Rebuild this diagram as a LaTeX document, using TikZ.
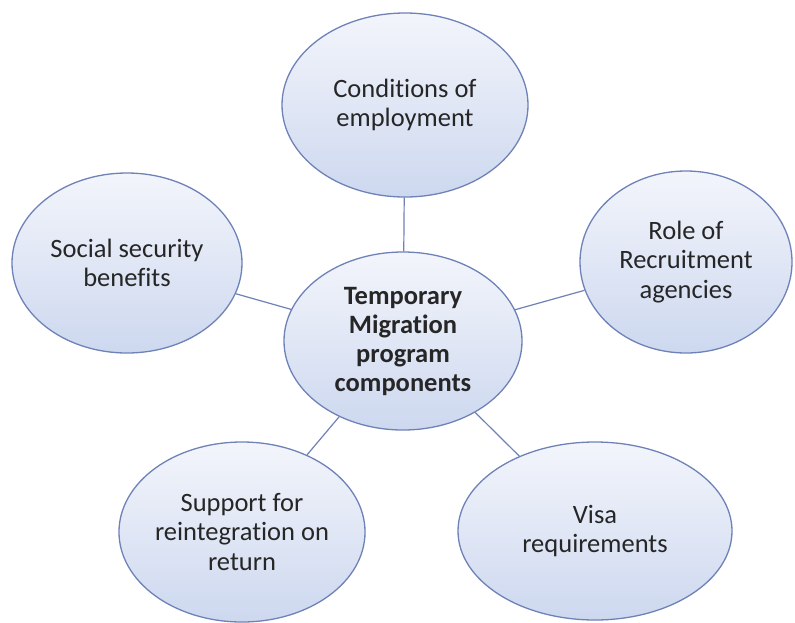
\documentclass[tikz,border=0pt]{standalone}
\usepackage{fontspec}
\setmainfont[Ligatures=NoCommon]{Carlito}
\usetikzlibrary{shapes.geometric}
\definecolor{rim}{HTML}{6F82B8}
\definecolor{bubtop}{HTML}{F3F5FB}
\definecolor{bubbot}{HTML}{CDD8EF}
\definecolor{ink}{HTML}{262626}
\tikzset{
  bubble/.style={ellipse, draw=rim, line width=1.3pt, top color=bubtop,
    bottom color=bubbot, inner sep=0pt, align=center, text=ink,
    font=\fontsize{26.5}{29.5}\selectfont},
  hub/.style={bubble, font=\fontsize{26.5}{29}\selectfont\bfseries},
  spoke/.style={draw=rim, line width=1.2pt}
}
\begin{document}
\begin{tikzpicture}[x=1pt,y=-1pt]
  \useasboundingbox (0,0) rectangle (795,622);
  \fill[white] (0,0) rectangle (795,622);

  \node[hub, minimum width=238pt, minimum height=178pt] (hub) at (403,341)
    {Temporary\\Migration\\program\\components};
  \node[bubble, minimum width=246pt, minimum height=184pt] (cond) at (405,105)
    {Conditions of\\employment};
  \node[bubble, minimum width=230pt, minimum height=180pt] (soc) at (127,263)
    {Social security\\benefits};
  \node[bubble, minimum width=212pt, minimum height=182pt] (role) at (686,262)
    {Role of\\Recruitment\\agencies};
  \node[bubble, minimum width=244pt, minimum height=180pt] (supp) at (242,532)
    {Support for\\reintegration on\\return};
  \node[bubble, minimum width=274pt, minimum height=178pt] (visa) at (595,531)
    {Visa\\requirements};

  \draw[spoke] (hub) -- (cond);
  \draw[spoke] (hub) -- (soc);
  \draw[spoke] (hub) -- (role);
  \draw[spoke] (hub) -- (supp);
  \draw[spoke] (hub) -- (visa);
\end{tikzpicture}
\end{document}
